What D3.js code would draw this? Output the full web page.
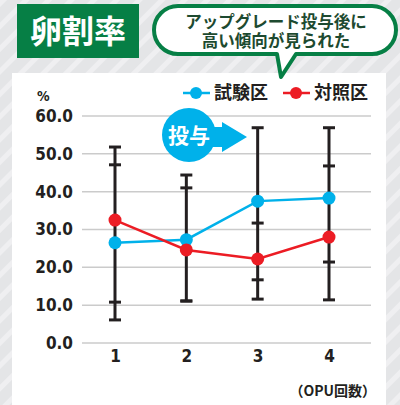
<!DOCTYPE html>
<html>
<head>
<meta charset="utf-8">
<script src="https://cdn.jsdelivr.net/npm/d3@7"></script>
<style>
  html, body { margin: 0; padding: 0; background: #e5e6e8; }
  svg { display: block; }
</style>
</head>
<body>
<script>
// OPU rounds and values
const rounds = [1, 2, 3, 4];
const yTicks = [0, 10, 20, 30, 40, 50, 60];

const testValues = [26.5, 27.3, 37.5, 38.3];
const testLow = [6.1, 11.1, 16.7, 21.4];
const testHigh = [47.1, 44.4, 56.9, 56.9];

const ctrlValues = [32.5, 24.6, 22.2, 28.0];
const ctrlLow = [10.8, 11.1, 11.6, 11.4];
const ctrlHigh = [51.8, 41.0, 31.7, 46.8];

const seriesNames = ['試験区', '対照区'];

const width = 400,
    height = 405;

const blue = '#00b1ea',
    red = '#ec1c24',
    green = '#067f45',
    ink = '#231f20';

const jp = '"Noto Sans CJK JP", "Noto Sans", sans-serif';
const num = '"DejaVu Sans Condensed", "DejaVu Sans", sans-serif';

const svg = d3.select('body')
    .append('svg')
    .attr('width', width)
    .attr('height', height);

// striped background
const defs = svg.append('defs');
const pat = defs.append('pattern')
    .attr('id', 'stripes')
    .attr('patternUnits', 'userSpaceOnUse')
    .attr('width', 16)
    .attr('height', 16)
    .attr('patternTransform', 'rotate(45)');
pat.append('rect').attr('width', 16).attr('height', 16).attr('fill', '#e4e5e7');
pat.append('rect').attr('width', 5).attr('height', 16).attr('fill', '#efeff1');

svg.append('rect')
    .attr('width', width)
    .attr('height', height)
    .attr('fill', 'url(#stripes)');

// white panel
svg.append('rect')
    .attr('x', 12)
    .attr('y', 73)
    .attr('width', 374)
    .attr('height', 340)
    .attr('fill', '#fff');

// title box
svg.append('rect')
    .attr('x', 17)
    .attr('y', 4)
    .attr('width', 122)
    .attr('height', 54)
    .attr('fill', green);

svg.append('text')
    .attr('x', 78)
    .attr('y', 43)
    .attr('text-anchor', 'middle')
    .style('font-family', jp)
    .style('font-weight', 'bold')
    .style('font-size', '32px')
    .attr('fill', '#fff')
    .text('卵割率');

// speech bubble
const bx0 = 154, bx1 = 396, by0 = 6, by1 = 54, br = 24;
const bubble = d3.path();
bubble.moveTo(bx0 + br, by0);
bubble.lineTo(bx1 - br, by0);
bubble.arcTo(bx1, by0, bx1, by0 + br, br);
bubble.arcTo(bx1, by1, bx1 - br, by1, br);
bubble.lineTo(296, by1);
bubble.lineTo(281, 77);
bubble.lineTo(277, by1);
bubble.lineTo(bx0 + br, by1);
bubble.arcTo(bx0, by1, bx0, by1 - br, br);
bubble.arcTo(bx0, by0, bx0 + br, by0, br);
bubble.closePath();

svg.append('path')
    .attr('d', bubble.toString())
    .attr('fill', '#fff')
    .attr('stroke', green)
    .attr('stroke-width', 4)
    .attr('stroke-linejoin', 'round');

svg.append('text')
    .attr('x', 276)
    .attr('y', 28)
    .attr('text-anchor', 'middle')
    .style('font-family', jp)
    .style('font-weight', 'bold')
    .style('font-size', '16.5px')
    .attr('fill', '#1d4a30')
    .text('アップグレード投与後に');

svg.append('text')
    .attr('x', 276)
    .attr('y', 47)
    .attr('text-anchor', 'middle')
    .style('font-family', jp)
    .style('font-weight', 'bold')
    .style('font-size', '16.5px')
    .attr('fill', '#1d4a30')
    .text('高い傾向が見られた');

// scales
const x = d3.scaleLinear()
    .domain([1, 4])
    .range([115, 329]);

const y = d3.scaleLinear()
    .domain([0, 60])
    .range([343, 116]);

// gridlines
svg.append('g')
    .selectAll('line')
    .data(yTicks)
    .enter()
    .append('line')
    .attr('x1', 82)
    .attr('x2', 371)
    .attr('y1', d => y(d))
    .attr('y2', d => y(d))
    .attr('stroke', '#cbcbcb')
    .attr('stroke-width', 1.5);

// y axis labels
const yAxis = svg.append('g')
    .attr('transform', 'translate(80,0)')
    .call(d3.axisLeft(y).tickValues(yTicks).tickFormat(d3.format('.1f')).tickSize(0).tickPadding(7));
yAxis.select('.domain').remove();
yAxis.selectAll('text')
    .style('font-family', num)
    .style('font-weight', 'bold')
    .style('font-size', '17px')
    .attr('fill', ink);

// x axis labels
const xAxis = svg.append('g')
    .attr('transform', 'translate(0,348)')
    .call(d3.axisBottom(x).tickValues(rounds).tickFormat(d3.format('d')).tickSize(0).tickPadding(2));
xAxis.select('.domain').remove();
xAxis.selectAll('text')
    .style('font-family', num)
    .style('font-weight', 'bold')
    .style('font-size', '17px')
    .attr('fill', ink);

svg.append('text')
    .attr('x', 37)
    .attr('y', 101)
    .style('font-family', num)
    .style('font-weight', 'bold')
    .style('font-size', '14px')
    .attr('fill', ink)
    .text('%');

svg.append('text')
    .attr('x', 376)
    .attr('y', 396)
    .attr('text-anchor', 'end')
    .style('font-family', jp)
    .style('font-weight', 'bold')
    .style('font-size', '14px')
    .attr('fill', ink)
    .text('（OPU回数）');

// 投与 badge
const badge = svg.append('g');
badge.append('path')
    .attr('d', d3.line()([[205, 127], [222, 127], [222, 122], [247, 137], [222, 152], [222, 147], [205, 147]]))
    .attr('fill', blue);
badge.append('circle')
    .attr('cx', 189)
    .attr('cy', 135)
    .attr('r', 27)
    .attr('fill', blue);
badge.append('text')
    .attr('x', 189)
    .attr('y', 143)
    .attr('text-anchor', 'middle')
    .style('font-family', jp)
    .style('font-weight', 'bold')
    .style('font-size', '21px')
    .attr('fill', '#fff')
    .text('投与');

// error bars
const bars = svg.append('g');
rounds.forEach((r, i) => {
    const caps = [testLow[i], testHigh[i], ctrlLow[i], ctrlHigh[i]];
    bars.append('line')
        .attr('x1', x(r))
        .attr('x2', x(r))
        .attr('y1', y(d3.min(caps)))
        .attr('y2', y(d3.max(caps)))
        .attr('stroke', ink)
        .attr('stroke-width', 3);
    bars.selectAll(null)
        .data(caps)
        .enter()
        .append('line')
        .attr('x1', x(r) - 6)
        .attr('x2', x(r) + 6)
        .attr('y1', d => y(d))
        .attr('y2', d => y(d))
        .attr('stroke', ink)
        .attr('stroke-width', 3);
});

// series lines
const line = d3.line()
    .x((d, i) => x(rounds[i]))
    .y(d => y(d));

[[testValues, blue], [ctrlValues, red]].forEach(([vals, col]) => {
    svg.append('path')
        .attr('d', line(vals))
        .attr('fill', 'none')
        .attr('stroke', col)
        .attr('stroke-width', 2.5);
    svg.append('g')
        .selectAll('circle')
        .data(vals)
        .enter()
        .append('circle')
        .attr('cx', (d, i) => x(rounds[i]))
        .attr('cy', d => y(d))
        .attr('r', 6.5)
        .attr('fill', col);
});

// legend
const legendItems = [
    { name: seriesNames[0], color: blue, x: 183 },
    { name: seriesNames[1], color: red, x: 283 }
];
const legend = svg.append('g');
legendItems.forEach(item => {
    legend.append('line')
        .attr('x1', item.x)
        .attr('x2', item.x + 27)
        .attr('y1', 93)
        .attr('y2', 93)
        .attr('stroke', item.color)
        .attr('stroke-width', 2.5);
    legend.append('circle')
        .attr('cx', item.x + 13)
        .attr('cy', 93)
        .attr('r', 6)
        .attr('fill', item.color);
    legend.append('text')
        .attr('x', item.x + 31)
        .attr('y', 99)
        .style('font-family', jp)
        .style('font-weight', 'bold')
        .style('font-size', '18px')
        .attr('fill', ink)
        .text(item.name);
});
</script>
</body>
</html>
